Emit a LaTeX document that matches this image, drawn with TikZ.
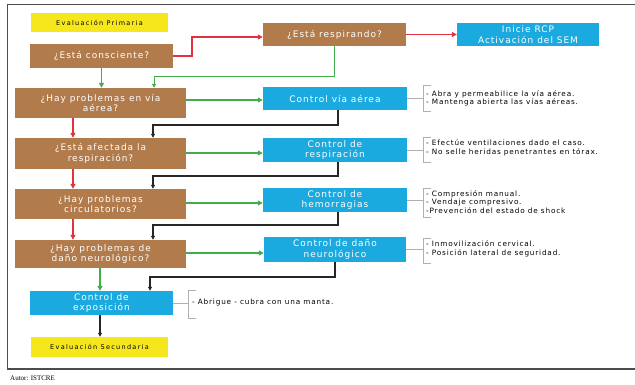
\documentclass[tikz,border=0pt]{standalone}
\usepackage{fontspec}
\setmainfont{DejaVu Sans}
\newfontfamily\autorfont{Liberation Serif}
\newfontfamily\boxfont[LetterSpace=11]{DejaVu Sans}
\newfontfamily\notefont[LetterSpace=11]{DejaVu Sans}
\newfontfamily\yfont[LetterSpace=20]{DejaVu Sans}
\usetikzlibrary{arrows.meta}
\definecolor{brownbox}{HTML}{B27B4C}
\definecolor{bluebox}{HTML}{1AAAE0}
\definecolor{yellowbox}{HTML}{F6E71C}
\definecolor{redline}{HTML}{E2323E}
\definecolor{greenline}{HTML}{3FAE4B}
\definecolor{notegray}{HTML}{B0B0B0}
\tikzset{
  box/.style={draw=none, inner sep=0pt, text=white, font=\boxfont\fontsize{9}{10.5}\selectfont, align=center},
  qbox/.style={box, fill=brownbox},
  cbox/.style={box, fill=bluebox},
  ybox/.style={box, fill=yellowbox, text=black, font=\yfont\fontsize{6.5}{7.5}\selectfont},
  redarr/.style={draw=redline, line width=1.3pt, -{Triangle[length=5pt,width=5pt]}},
  greenarr/.style={draw=greenline, line width=1.3pt, -{Triangle[length=5pt,width=5pt]}},
  thingreen/.style={draw=greenline, line width=0.9pt, -{Triangle[length=4pt,width=4pt]}},
  blackarr/.style={draw=black!85, line width=1.1pt, -{Triangle[length=4pt,width=4pt]}},
  notebracket/.style={draw=notegray, line width=0.7pt},
  notetext/.style={anchor=west, inner sep=0pt, align=left, text=black, font=\notefont\fontsize{7.3}{8.5}\selectfont},
}
\begin{document}
\begin{tikzpicture}[x=1pt,y=-1pt]
\useasboundingbox (0,0) rectangle (635,385);
\draw[black!70, line width=1pt] (7,5) -- (636,5);
\draw[black!70, line width=1pt] (7,5) -- (7,369);
\draw[black!70, line width=1.2pt] (7,369) -- (636,369);
\node[anchor=west, inner sep=0pt, font=\autorfont\fontsize{7}{8}\selectfont] (autor) at (10,378) {Autor: ISTCRE};

% boxes
\node[ybox, minimum width=137, minimum height=19] (ep) at (99.5,22.5) {Evaluación Primaria};
\node[qbox, minimum width=143, minimum height=24] (c1) at (101.5,56) {¿Está consciente?};
\node[qbox, minimum width=143, minimum height=23] (r1) at (334.5,34.5) {¿Está respirando?};
\node[cbox, minimum width=142, minimum height=23] (rcp) at (528,34.5) {Inicie RCP\\Activación del SEM};

\node[qbox, minimum width=171, minimum height=30] (q1) at (100.5,103) {¿Hay problemas en vía\\aérea?};
\node[cbox, minimum width=144, minimum height=23] (k1) at (335,98.5) {Control vía aérea};

\node[qbox, minimum width=171, minimum height=31] (q2) at (100.5,153.5) {¿Está afectada la\\respiración?};
\node[cbox, minimum width=144, minimum height=24] (k2) at (335,150) {Control de\\respiración};

\node[qbox, minimum width=171, minimum height=30] (q3) at (100.5,204) {¿Hay problemas\\circulatorios?};
\node[cbox, minimum width=144, minimum height=24] (k3) at (335,200) {Control de\\hemorragias};

\node[qbox, minimum width=171, minimum height=28] (q4) at (100.5,254) {¿Hay problemas de\\daño neurológico?};
\node[cbox, minimum width=142, minimum height=25] (k4) at (335,249.5) {Control de daño\\neurológico};

\node[cbox, minimum width=143, minimum height=24] (k5) at (101.5,303) {Control de\\exposición};
\node[ybox, minimum width=137, minimum height=20] (es) at (99.5,347) {Evaluación Secundaria};

% notes
\coordinate (n1) at (423,98.5);
\draw[notebracket] (k1.east) -- (n1);
\draw[notebracket] (431,85) -- (423,85) -- (423,111) -- (431,111);
\node[notetext] (t1) at (426,98.5) {- Abra y permeabilice la vía aérea.\\- Mantenga abierta las vías aéreas.};

\coordinate (n2) at (423,150);
\draw[notebracket] (k2.east) -- (n2);
\draw[notebracket] (431,137) -- (423,137) -- (423,162) -- (431,162);
\node[notetext] (t2) at (426,148) {- Efectúe ventilaciones dado el caso.\\- No selle heridas penetrantes en tórax.};

\coordinate (n3) at (423,200);
\draw[notebracket] (k3.east) -- (n3);
\draw[notebracket] (431,188) -- (423,188) -- (423,217) -- (431,217);
\node[notetext] (t3) at (426,202) {- Compresión manual.\\- Vendaje compresivo.\\-Prevención del estado de shock};

\coordinate (n4) at (423,249.5);
\draw[notebracket] (k4.east) -- (n4);
\draw[notebracket] (431,238) -- (423,238) -- (423,263) -- (431,263);
\node[notetext] (t4) at (426,249) {- Inmovilización cervical.\\- Posición lateral de seguridad.};

\coordinate (n5) at (188,303);
\draw[notebracket] (k5.east) -- (n5);
\draw[notebracket] (196,290) -- (188,290) -- (188,318) -- (196,318);
\node[notetext] (t5) at (192,302) {- Abrigue - cubra con una manta.};

% connectors
\draw[redarr] (c1.east) -- (192,56) -- (192,37) -- (r1.west |- 0,37);
\draw[greenarr] (c1.south) -- (q1.north -| c1.south);
\draw[thingreen] (r1.south) -- (334.5,76) -- (154,76) -- (q1.north -| 154,0);
\draw[redarr] (r1.east) -- (rcp.west);

\draw[greenarr] (q1.east |- 0,100) -- (k1.west |- 0,100);
\draw[redarr] (q1.south -| 73,0) -- (q2.north -| 73,0);
\draw[blackarr] (k1.south -| 338,0) -- (338,125) -- (153,125) -- (q2.north -| 153,0);

\draw[greenarr] (q2.east |- 0,153) -- (k2.west |- 0,153);
\draw[redarr] (q2.south -| 73,0) -- (q3.north -| 73,0);
\draw[blackarr] (k2.south -| 338,0) -- (338,176) -- (153,176) -- (q3.north -| 153,0);

\draw[greenarr] (q3.east |- 0,203) -- (k3.west |- 0,203);
\draw[redarr] (q3.south -| 73,0) -- (q4.north -| 73,0);
\draw[blackarr] (k3.south -| 338,0) -- (338,225) -- (153,225) -- (q4.north -| 153,0);

\draw[greenarr] (q4.east |- 0,253) -- (k4.west |- 0,253);
\draw[greenarr] (q4.south -| 100,0) -- (k5.north -| 100,0);
\draw[blackarr] (k4.south -| 335,0) -- (335,277) -- (150,277) -- (k5.north -| 150,0);

\draw[blackarr] (k5.south -| 100,0) -- (es.north -| 100,0);
\end{tikzpicture}
\end{document}
